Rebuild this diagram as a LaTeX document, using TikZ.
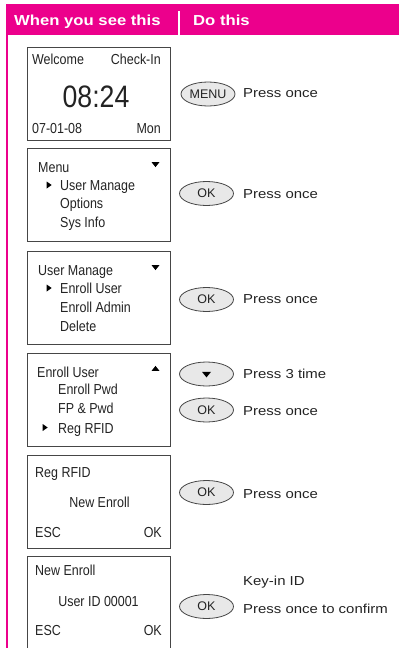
\documentclass[tikz,border=0pt]{standalone}
\usepackage{fontspec}
\setmainfont{Liberation Sans}
\newfontfamily\lcdfont[FakeStretch=0.86]{Liberation Sans}
\newfontfamily\guidefont[FakeStretch=1.15]{Liberation Sans}
\usepackage{tikz}
\usetikzlibrary{shapes.geometric, positioning, calc}
\definecolor{mymagenta}{RGB}{236,0,140}
\definecolor{myframe}{RGB}{70,70,70}
\definecolor{mytext}{RGB}{35,35,35}
\definecolor{btnfill}{RGB}{232,232,232}
\tikzset{
  screen/.style={rectangle, draw=myframe, line width=0.9pt,
    minimum width=143, minimum height=93, inner sep=0pt},
  lcd/.style={font=\lcdfont\fontsize{14.5}{16}\selectfont,
    inner sep=0pt, color=mytext},
  lcdl/.style={lcd, anchor=base west},
  lcdr/.style={lcd, anchor=base east},
  lcdc/.style={lcd, anchor=base},
  clock/.style={font=\lcdfont\fontsize{31}{34}\selectfont,
    inner sep=0pt, anchor=base, color=mytext},
  button/.style={ellipse, draw=myframe, fill=btnfill, line width=0.8pt,
    minimum width=54, minimum height=24, inner sep=0pt,
    font=\fontsize{12.5}{13}\selectfont, text=mytext},
  note/.style={anchor=base west, inner sep=0pt,
    font=\guidefont\fontsize{13}{14}\selectfont, color=mytext},
  hdr/.style={anchor=base west, inner sep=0pt,
    font=\guidefont\bfseries\fontsize{14.5}{16}\selectfont, color=white},
  tri/.style={isosceles triangle, isosceles triangle stretches,
    fill=black, draw=none, inner sep=0pt, minimum width=8, minimum height=5},
  downtri/.style={tri, shape border rotate=-90},
  uptri/.style={tri, shape border rotate=90},
  righttri/.style={tri, minimum width=7, minimum height=5}
}

\begin{document}
\begin{tikzpicture}[x=1pt, y=-1pt]
  \useasboundingbox (0,0) rectangle (399,648);
  % header band
  \fill[mymagenta] (6,4) rectangle (399,34.5);
  \draw[white, line width=1.3pt] (179,11) -- (179,34.5);
  \node[hdr] (hsee) at (14,25) {When you see this};
  \node[hdr] (hdo) at (193,25) {Do this};
  % left rule
  \draw[mymagenta, line width=1.5pt] (7,34.5) -- (7,648);

  % screen 1: idle
  \node[screen] (scr1) at (98.5,93.5) {};
  \node[lcdl] (s1a) at (32,64) {Welcome};
  \node[lcdr] (s1b) at (161,64) {Check-In};
  \node[clock] (s1c) at (96,107) {08:24};
  \node[lcdl] (s1d) at (32,133) {07-01-08};
  \node[lcdr] (s1e) at (161,133) {Mon};
  \node[button] (b1) at (208,94) {MENU};
  \node[note] (n1) at (243,97.5) {Press once};

  % screen 2: menu
  \node[screen] (scr2) at (98.5,194.5) {};
  \node[lcdl] (s2a) at (38,172) {Menu};
  \node[downtri] (t2a) at (155.5,164) {};
  \node[righttri] (t2b) at (48.5,185) {};
  \node[lcdl] (s2b) at (60,190) {User Manage};
  \node[lcdl] (s2c) at (60,208) {Options};
  \node[lcdl] (s2d) at (60,227) {Sys Info};
  \node[button] (b2) at (206.5,193.5) {OK};
  \node[note] (n2) at (243,198) {Press once};

  % screen 3: user manage
  \node[screen] (scr3) at (98.5,297.5) {};
  \node[lcdl] (s3a) at (38,275) {User Manage};
  \node[downtri] (t3a) at (155.5,267) {};
  \node[righttri] (t3b) at (48.5,288) {};
  \node[lcdl] (s3b) at (60,293) {Enroll User};
  \node[lcdl] (s3c) at (60,312) {Enroll Admin};
  \node[lcdl] (s3d) at (60,331) {Delete};
  \node[button] (b3) at (206.5,299.5) {OK};
  \node[note] (n3) at (243,303.5) {Press once};

  % screen 4: enroll user
  \node[screen] (scr4) at (98.5,399.5) {};
  \node[lcdl] (s4a) at (37,377) {Enroll User};
  \node[uptri] (t4a) at (155.5,369) {};
  \node[lcdl] (s4b) at (58,394) {Enroll Pwd};
  \node[lcdl] (s4c) at (58,413) {FP \& Pwd};
  \node[righttri] (t4b) at (44.5,427.5) {};
  \node[lcdl] (s4d) at (58,433) {Reg RFID};
  \node[button] (b4a) at (206.5,374) {};
  \node[downtri, minimum width=9, minimum height=5.5] (t4c) at (b4a) {};
  \node[note] (n4a) at (243,378.5) {Press 3 time};
  \node[button] (b4b) at (206.5,410) {OK};
  \node[note] (n4b) at (243,415.5) {Press once};

  % screen 5: reg rfid
  \node[screen] (scr5) at (98.5,501.5) {};
  \node[lcdl] (s5a) at (35,477) {Reg RFID};
  \node[lcdc] (s5b) at (99.5,507) {New Enroll};
  \node[lcdl] (s5c) at (35,537) {ESC};
  \node[lcdr] (s5d) at (162,537) {OK};
  \node[button] (b5) at (206.5,492.5) {OK};
  \node[note] (n5) at (243,498) {Press once};

  % screen 6: new enroll (runs off the page)
  \draw[myframe, line width=0.9pt] (27,650) -- (27,556) -- (170,556) -- (170,650);
  \node[lcdl] (s6a) at (35,575) {New Enroll};
  \node[lcdc] (s6b) at (98.5,606) {User ID 00001};
  \node[lcdl] (s6c) at (35,635) {ESC};
  \node[lcdr] (s6d) at (162,635) {OK};
  \node[note] (n6a) at (243,585) {Key-in ID};
  \node[button] (b6) at (206.5,606.5) {OK};
  \node[note] (n6b) at (243,613) {Press once to confirm};
\end{tikzpicture}
\end{document}
